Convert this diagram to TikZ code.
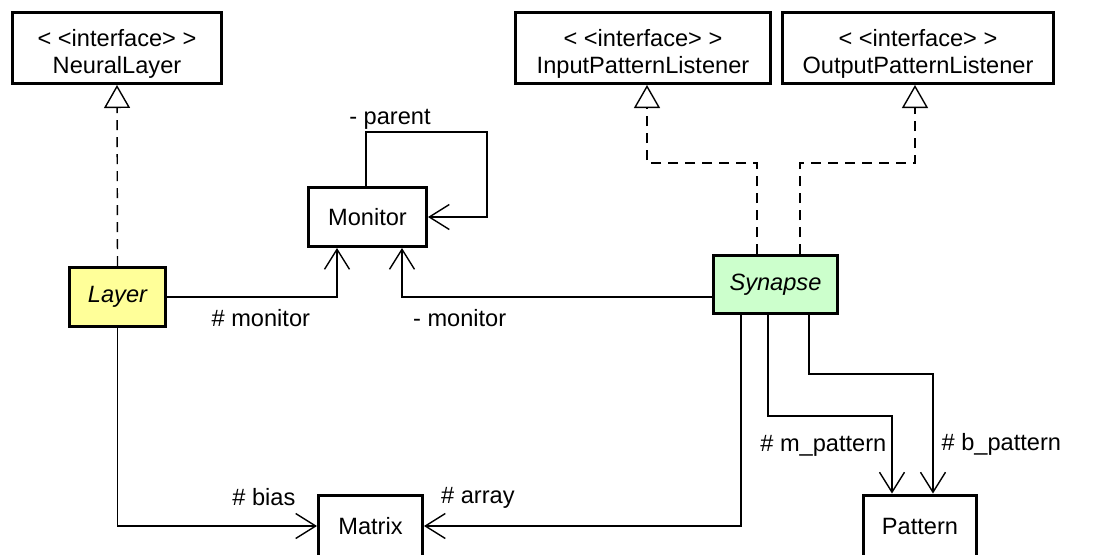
\documentclass[tikz,border=0pt]{standalone}
\usepackage{fontspec}
\setmainfont{Liberation Sans}
\usetikzlibrary{arrows.meta}
\definecolor{layeryellow}{HTML}{FFFF99}
\definecolor{synapsegreen}{HTML}{CCFFCC}

\begin{document}
\begin{tikzpicture}[x=0.5pt,y=-0.5pt,
    every node/.style={font=\fontsize{11.8}{13.5}\selectfont},
    cls/.style={draw,line width=1.5pt,align=center,inner sep=0pt},
    iface/.style={cls,minimum height=35.5pt,text height=27.5pt},
    lbl/.style={inner sep=1pt},
    assoc/.style={line width=0.7pt,-{Straight Barb[length=10pt,width=12.5pt,line width=0.7pt]}},
    realize/.style={line width=0.7pt,dash pattern=on 5pt off 3.5pt,-{Triangle[open,length=11.5pt,width=13pt,line width=0.7pt]}}]
  \useasboundingbox (0,0) rectangle (1109,554);
  \clip (0,0) rectangle (1109,554);

  % interfaces
  \node[iface,minimum width=104.5pt] (neural) at (117,48) {< <interface> >\\NeuralLayer};
  \node[iface,minimum width=127.5pt] (input) at (643,48) {< <interface> >\\InputPatternListener};
  \node[iface,minimum width=135.5pt] (output) at (918,48) {< <interface> >\\OutputPatternListener};

  % classes
  \node[cls,minimum width=59pt,minimum height=29.5pt] (monitor) at (367.5,217) {Monitor};
  \node[cls,minimum width=48pt,minimum height=29.5pt,fill=layeryellow,font=\fontsize{11.8}{13.5}\selectfont\itshape] (layer) at (117.5,297) {Layer};
  \node[cls,minimum width=62pt,minimum height=29pt,fill=synapsegreen,font=\fontsize{11.8}{13.5}\selectfont\itshape] (synapse) at (775.5,284.5) {Synapse};
  \node[cls,minimum width=52pt,minimum height=31pt] (matrix) at (370.5,526) {Matrix};
  \node[cls,minimum width=56.5pt,minimum height=31pt] (pattern) at (920,526) {Pattern};

  % realizations
  \draw[realize] (layer.north) -- (neural.south);
  \draw[realize] ([xshift=-9.25pt]synapse.north) -- ++(0,-91) -| ([xshift=2pt]input.south);
  \draw[realize] ([xshift=12.25pt]synapse.north) -- ++(0,-91) -| ([xshift=-1.5pt]output.south);

  % associations
  \draw[assoc] ([xshift=-0.75pt]monitor.north) -- ++(0,-54) node[lbl,above,xshift=12pt] {- parent} -- ++(121,0) |- (monitor.east);
  \draw[assoc] (layer.east) -| ([xshift=-15.25pt]monitor.south) node[lbl,pos=0.276,below=5pt] {\# monitor};
  \draw[assoc] ([yshift=-6.25pt]synapse.west) -| ([xshift=17.25pt]monitor.south) node[lbl,pos=0.407,below=5pt] {- monitor};
  \draw[assoc] (layer.south) |- (matrix.west) node[lbl,pos=0.867,above=9pt] {\# bias};
  \draw[assoc] ([xshift=-17.25pt]synapse.south) |- (matrix.east) node[lbl,pos=0.915,above=7.5pt] {\# array};
  \draw[assoc] ([xshift=-3.75pt]synapse.south) -- ++(0,101) -| ([xshift=-14pt]pattern.north) node[lbl,pos=0.69,left=1.5pt] {\# m\_pattern};
  \draw[assoc] ([xshift=16.75pt]synapse.south) -- ++(0,59) -| ([xshift=6.5pt]pattern.north) node[lbl,pos=0.795,right=3pt] {\# b\_pattern};
\end{tikzpicture}
\end{document}
